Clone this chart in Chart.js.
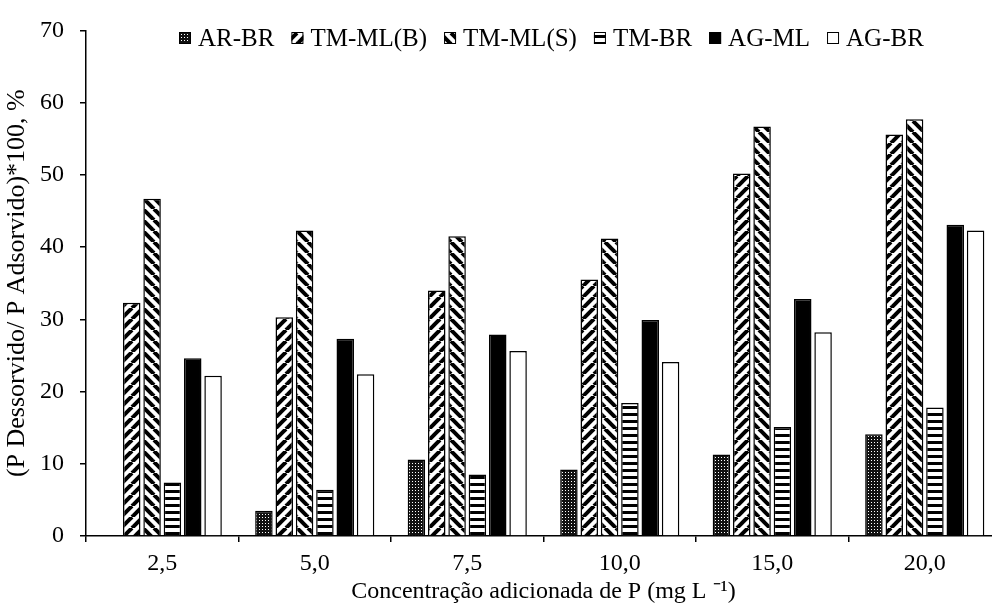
<!DOCTYPE html>
<html>
<head>
<meta charset="utf-8">
<script src="https://cdn.jsdelivr.net/npm/chart.js@4"></script>
<style>
    html, body { margin: 0; padding: 0; background: #fff; overflow: hidden; }
    #wrap { width: 1010px; height: 608px; }
</style>
</head>
<body>
<div id="wrap"><canvas id="myChart"></canvas></div>
<script>
const labels = ['2,5', '5,0', '7,5', '10,0', '15,0', '20,0'];

const arBr  = [0, 3.5, 10.6, 9.2, 11.3, 14.1];
const tmMlB = [32.3, 30.3, 34.0, 35.5, 50.2, 55.6];
const tmMlS = [46.7, 42.3, 41.5, 41.2, 56.7, 57.7];
const tmBr  = [7.4, 6.4, 8.5, 18.4, 15.1, 17.8];
const agMl  = [24.6, 27.3, 27.9, 29.9, 32.8, 43.1];
const agBr  = [22.2, 22.4, 25.6, 24.1, 28.2, 42.3];

const yMin = 0;
const yMax = 70;
const yStep = 10;

const xTitle = 'Concentração adicionada de P (mg L ⁻¹)';
const yTitle = '(P Dessorvido/ P Adsorvido)*100, %';

const FONT = '"Liberation Serif", "Times New Roman", serif';

// little fill patterns, like the old excel hatching
function makePattern(kind) {
    const c = document.createElement('canvas');
    const g = c.getContext('2d');
    if (kind === 'dots') {
        c.width = c.height = 3;
        g.fillStyle = '#111';
        g.fillRect(0, 0, 3, 3);
        g.fillStyle = '#fff';
        g.fillRect(1, 1, 1, 1);
    } else if (kind === 'fwd' || kind === 'back') {
        const s = 11;
        c.width = c.height = s;
        g.fillStyle = '#fff';
        g.fillRect(0, 0, s, s);
        g.strokeStyle = '#000';
        g.lineWidth = 4;
        if (kind === 'back') {
            g.translate(s, 0);
            g.scale(-1, 1);
        }
        for (const o of [-s, 0, s]) {
            g.beginPath();
            g.moveTo(o, s);
            g.lineTo(o + s, 0);
            g.stroke();
        }
    } else if (kind === 'horiz') {
        c.width = 4;
        c.height = 7;
        g.fillStyle = '#fff';
        g.fillRect(0, 0, 4, 7);
        g.fillStyle = '#000';
        g.fillRect(0, 0, 4, 3);
    }
    return g.createPattern(c, 'repeat');
}

function bar(label, values, fill) {
    return {
        label: label,
        data: values,
        backgroundColor: fill,
        borderColor: '#000',
        borderWidth: 1.5,
        categoryPercentage: 0.8,
        barPercentage: 0.86
    };
}

const data = {
    labels: labels,
    datasets: [
        bar('AR-BR', arBr, makePattern('dots')),
        bar('TM-ML(B)', tmMlB, makePattern('fwd')),
        bar('TM-ML(S)', tmMlS, makePattern('back')),
        bar('TM-BR', tmBr, makePattern('horiz')),
        bar('AG-ML', agMl, '#000'),
        bar('AG-BR', agBr, '#fff')
    ]
};

// legend sits inside the plot, top row
const topLegend = {
    id: 'topLegend',
    afterDraw(chart) {
        const ctx = chart.ctx;
        ctx.save();
        ctx.font = '25px ' + FONT;
        ctx.textBaseline = 'middle';
        ctx.textAlign = 'left';
        let x = 179;
        chart.data.datasets.forEach(ds => {
            ctx.fillStyle = ds.backgroundColor;
            ctx.fillRect(x, 32, 12, 12);
            ctx.strokeStyle = '#000';
            ctx.lineWidth = 1;
            ctx.strokeRect(x + 0.5, 32.5, 11, 11);
            ctx.fillStyle = '#000';
            ctx.fillText(ds.label, x + 19, 39);
            x += 19 + ctx.measureText(ds.label).width + 17;
        });
        ctx.restore();
    }
};

const config = {
    type: 'bar',
    data,
    options: {
        responsive: true,
        maintainAspectRatio: false,
        animation: false,
        layout: {
            padding: { top: 20, right: 9, left: 0, bottom: 0 }
        },
        plugins: {
            legend: { display: false },
            tooltip: { enabled: false }
        },
        scales: {
            x: {
                grid: {
                    display: true,
                    drawOnChartArea: false,
                    offset: true,
                    color: '#000',
                    lineWidth: 1.5,
                    tickLength: 6
                },
                border: { color: '#000', width: 1.5 },
                ticks: { color: '#000', font: { size: 24, family: FONT }, padding: 7 },
                title: {
                    display: true,
                    text: xTitle,
                    color: '#000',
                    font: { size: 24, family: FONT },
                    padding: { top: 0, bottom: 2 }
                },
                afterFit: s => { s.height = 72; }
            },
            y: {
                min: yMin,
                max: yMax,
                grid: {
                    drawOnChartArea: false,
                    color: '#000',
                    lineWidth: 1.5,
                    tickLength: 6
                },
                border: { color: '#000', width: 1.5 },
                ticks: {
                    stepSize: yStep,
                    color: '#000',
                    font: { size: 24, family: FONT },
                    padding: 16
                },
                title: {
                    display: true,
                    text: yTitle,
                    color: '#000',
                    font: { size: 26, family: FONT },
                    padding: { top: 2, bottom: 0 }
                },
                afterFit: s => { s.width = 86; }
            }
        }
    },
    plugins: [topLegend]
};

var myChart = new Chart(
    document.getElementById('myChart'),
    config
);
</script>
</body>
</html>
